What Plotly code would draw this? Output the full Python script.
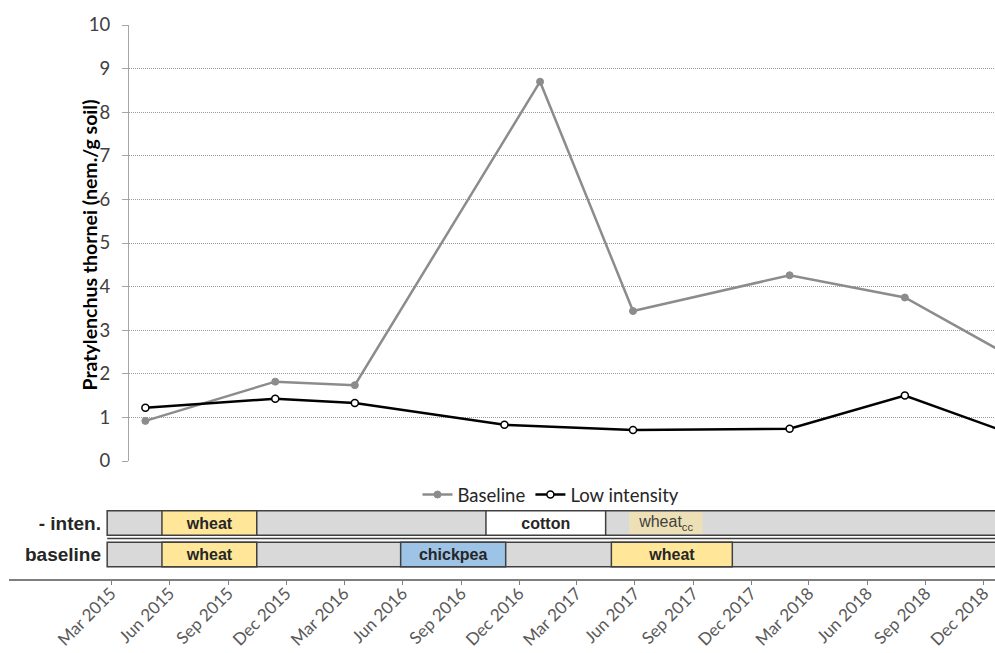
import plotly.graph_objects as go
from datetime import datetime, timedelta

# ---------------- data ----------------
baseline_dates = ["2015-04-24", "2015-11-14", "2016-03-18", "2017-01-03",
                  "2017-05-29", "2018-01-30", "2018-07-30", "2019-01-12"]
baseline_values = [0.92, 1.82, 1.74, 8.70, 3.44, 4.26, 3.75, 2.40]

low_dates = ["2015-04-24", "2015-11-14", "2016-03-18", "2016-11-08",
             "2017-05-29", "2018-01-30", "2018-07-30", "2019-01-12"]
low_values = [1.22, 1.43, 1.33, 0.83, 0.71, 0.74, 1.50, 0.63]

row_labels = ["baseline", "- inten."]
crop_rows = ["- inten.", "- inten.", "- inten.", "baseline", "baseline", "baseline"]
crop_names = ["wheat", "cotton", "wheat<sub>cc</sub>", "wheat", "chickpea", "wheat"]
crop_bold = [True, True, False, True, True, True]
crop_start = ["2015-05-20", "2016-10-10", "2017-05-23", "2015-05-20", "2016-05-29", "2017-04-25"]
crop_end = ["2015-10-16", "2017-04-16", "2017-09-15", "2015-10-16", "2016-11-10", "2017-11-01"]
crop_colors = ["#ffe699", "#ffffff", "#eee0b6", "#ffe699", "#9dc3e6", "#ffe699"]
rotation_start = "2015-02-23"
rotation_end = "2019-03-01"

tick_dates = ["2015-03-01", "2015-06-01", "2015-09-01", "2015-12-01",
              "2016-03-01", "2016-06-01", "2016-09-01", "2016-12-01",
              "2017-03-01", "2017-06-01", "2017-09-01", "2017-12-01",
              "2018-03-01", "2018-06-01", "2018-09-01", "2018-12-01"]
tick_labels = ["Mar 2015", "Jun 2015", "Sep 2015", "Dec 2015",
               "Mar 2016", "Jun 2016", "Sep 2016", "Dec 2016",
               "Mar 2017", "Jun 2017", "Sep 2017", "Dec 2017",
               "Mar 2018", "Jun 2018", "Sep 2018", "Dec 2018"]

# ---------------- layout helpers ----------------
W, H = 995, 653
PX_PER_DAY = 0.6366
def px_date(px):
    d = datetime(2015, 3, 1) + timedelta(days=(px - 111) / PX_PER_DAY)
    return d.strftime("%Y-%m-%d %H:%M:%S")
def fx(px):
    return px / W
def fy(py):
    return 1 - py / H

def to_dt(s):
    return datetime.strptime(s, "%Y-%m-%d")
def dur_ms(a, b):
    return (to_dt(b) - to_dt(a)).total_seconds() * 1000

FONT = "Lato, 'Open Sans', sans-serif"
BOLD = "'Liberation Sans', Arial, sans-serif"

fig = go.Figure()

# nematode series
fig.add_trace(go.Scatter(
    x=baseline_dates, y=baseline_values, name="Baseline",
    mode="lines+markers", xaxis="x2", yaxis="y2",
    line=dict(color="#8c8c8c", width=2.5),
    marker=dict(color="#8c8c8c", size=7, line=dict(color="#8c8c8c", width=1)),
))
fig.add_trace(go.Scatter(
    x=low_dates, y=low_values, name="Low intensity",
    mode="lines+markers", xaxis="x2", yaxis="y2",
    line=dict(color="#000000", width=2.5),
    marker=dict(color="#ffffff", size=7, line=dict(color="#000000", width=1.5)),
))

# crop rotation rows: grey background
fig.add_trace(go.Bar(
    orientation="h", y=row_labels,
    base=[rotation_start] * len(row_labels),
    x=[dur_ms(rotation_start, rotation_end)] * len(row_labels),
    xaxis="x", yaxis="y3", width=0.78,
    marker=dict(color="#d9d9d9", line=dict(color="#404040", width=1.5)),
    showlegend=False, hoverinfo="skip",
))
# crops
fig.add_trace(go.Bar(
    orientation="h", y=crop_rows, base=crop_start,
    x=[dur_ms(a, b) for a, b in zip(crop_start, crop_end)],
    xaxis="x", yaxis="y3",
    width=[0.78 if b else 0.70 for b in crop_bold],
    marker=dict(color=crop_colors,
                line=dict(color="#404040", width=[1.5 if b else 0 for b in crop_bold])),
    text=[("<b>%s</b>" % n) if b else n for n, b in zip(crop_names, crop_bold)],
    textposition="inside", insidetextanchor="middle", textangle=0,
    constraintext="none",
    insidetextfont=dict(family=BOLD, size=16,
                        color=["#262626" if b else "#404040" for b in crop_bold]),
    showlegend=False, hoverinfo="skip",
))

# double separator line between rows
fig.add_shape(type="line", xref="x", yref="paper",
              x0=rotation_start, x1=rotation_end, y0=fy(538.5), y1=fy(538.5),
              line=dict(color="#404040", width=1.5), layer="above")

# y axis title
fig.add_annotation(text="<b>Pratylenchus thornei (nem./g soil)</b>",
                   xref="paper", yref="paper", x=fx(75), y=fy(245),
                   textangle=-90, showarrow=False,
                   font=dict(family=FONT, size=19.5, color="#000000"))

fig.update_layout(
    width=W, height=H, margin=dict(l=0, r=0, t=0, b=0, pad=0),
    paper_bgcolor="white", plot_bgcolor="white",
    barmode="overlay",
    showlegend=True,
    legend=dict(orientation="h", x=fx(551), y=fy(495), xanchor="center", yanchor="middle",
                font=dict(family=FONT, size=18.5, color="#262626"),
                itemwidth=30, bgcolor="rgba(0,0,0,0)"),
    xaxis2=dict(domain=[fx(129), 1], anchor="y2", type="date", automargin=False,
                range=[px_date(129), px_date(995)],
                showticklabels=False, showgrid=False, zeroline=False, showline=False),
    yaxis2=dict(domain=[fy(461), fy(25)], anchor="x2", range=[0, 10], automargin=False,
                dtick=1, tick0=0, showgrid=True, gridcolor="#9a9a9a", griddash="1px,1px",
                gridwidth=1, zeroline=False, showline=True, linecolor="#a6a6a6",
                linewidth=1, ticks="outside", ticklen=6, tickcolor="#a6a6a6",
                ticklabelstandoff=8,
                tickfont=dict(family=FONT, size=18.5, color="#404040")),
    xaxis=dict(domain=[fx(9), 1], anchor="free", position=fy(580), type="date",
               automargin=False,
               range=[px_date(9), px_date(995)],
               tickvals=tick_dates, ticktext=tick_labels, tickangle=-45,
               tickfont=dict(family=FONT, size=17, color="#595959"),
               ticks="outside", ticklen=4, tickcolor="#7f7f7f",
               ticklabelstandoff=-8,
               showline=True, linecolor="#7f7f7f", linewidth=1.5,
               showgrid=False, zeroline=False),
    yaxis3=dict(domain=[fy(570.25), fy(507.25)], anchor="free", position=fx(107),
                automargin=False,
                type="category", categoryorder="array", categoryarray=row_labels,
                range=[-0.5, 1.5], showgrid=False, zeroline=False, showline=False,
                ticks="", ticklabelstandoff=6,
                tickvals=row_labels, ticktext=["<b>%s</b>" % r for r in row_labels],
                tickfont=dict(family=BOLD, size=19, color="#262626")),
)

fig.write_html("out.html", config={"displayModeBar": False},
               post_script="document.body.style.margin='0';")
